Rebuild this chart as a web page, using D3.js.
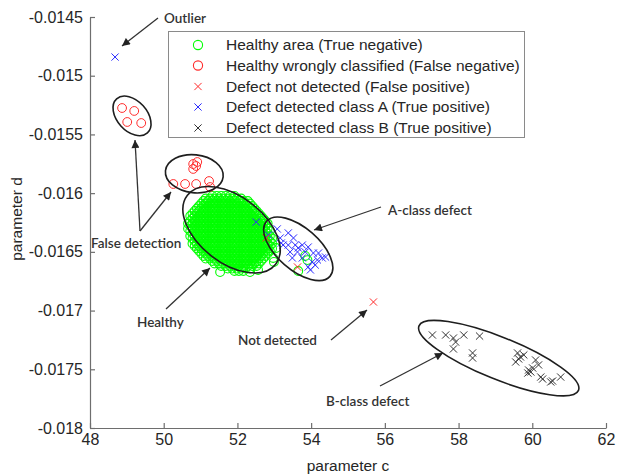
<!DOCTYPE html>
<html>
<head>
<meta charset="utf-8">
<script src="https://cdn.jsdelivr.net/npm/d3@7"></script>
<style>
  html, body { margin: 0; padding: 0; background: #fff; }
  svg { display: block; }
</style>
</head>
<body>
<svg id="chart" width="620" height="476"></svg>
<script>
// ---------------- DATA ----------------
const xTicks = [48, 50, 52, 54, 56, 58, 60, 62];
const xTickLabels = ["48", "50", "52", "54", "56", "58", "60", "62"];
const yTicks = [-0.0145, -0.015, -0.0155, -0.016, -0.0165, -0.017, -0.0175, -0.018];
const yTickLabels = ["-0.0145", "-0.015", "-0.0155", "-0.016", "-0.0165", "-0.017", "-0.0175", "-0.018"];

const legendLabels = [
  "Healthy area (True negative)",
  "Healthy wrongly classified (False negative)",
  "Defect not detected (False positive)",
  "Defect detected class A (True positive)",
  "Defect detected class B (True positive)"
];

// Healthy area (True negative): rows of [d, [c values]] (dense cloud)
const healthyRows = [
  [-0.016024, [51.32, 51.44, 51.56, 51.68, 51.80, 51.92]],
  [-0.016046, [51.14, 51.26, 51.38, 51.50, 51.62, 51.74, 51.86, 51.98, 52.10]],
  [-0.016067, [51.08, 51.20, 51.32, 51.44, 51.56, 51.68, 51.80, 51.92, 52.04, 52.16, 52.28]],
  [-0.016088, [51.02, 51.14, 51.26, 51.38, 51.50, 51.62, 51.74, 51.86, 51.98, 52.10, 52.22, 52.34]],
  [-0.016110, [50.96, 51.08, 51.20, 51.32, 51.44, 51.56, 51.68, 51.80, 51.92, 52.04, 52.16, 52.28, 52.40]],
  [-0.016131, [50.90, 51.02, 51.14, 51.26, 51.38, 51.50, 51.62, 51.74, 51.86, 51.98, 52.10, 52.22, 52.34, 52.46]],
  [-0.016152, [50.84, 50.96, 51.08, 51.20, 51.32, 51.44, 51.56, 51.68, 51.80, 51.92, 52.04, 52.16, 52.28, 52.40, 52.52]],
  [-0.016173, [50.78, 50.90, 51.02, 51.14, 51.26, 51.38, 51.50, 51.62, 51.74, 51.86, 51.98, 52.10, 52.22, 52.34, 52.46, 52.58]],
  [-0.016195, [50.72, 50.84, 50.96, 51.08, 51.20, 51.32, 51.44, 51.56, 51.68, 51.80, 51.92, 52.04, 52.16, 52.28, 52.40, 52.52, 52.64]],
  [-0.016216, [50.78, 50.90, 51.02, 51.14, 51.26, 51.38, 51.50, 51.62, 51.74, 51.86, 51.98, 52.10, 52.22, 52.34, 52.46, 52.58, 52.70]],
  [-0.016237, [50.72, 50.84, 50.96, 51.08, 51.20, 51.32, 51.44, 51.56, 51.68, 51.80, 51.92, 52.04, 52.16, 52.28, 52.40, 52.52, 52.64, 52.76]],
  [-0.016259, [50.66, 50.78, 50.90, 51.02, 51.14, 51.26, 51.38, 51.50, 51.62, 51.74, 51.86, 51.98, 52.10, 52.22, 52.34, 52.46, 52.58, 52.70, 52.82]],
  [-0.016280, [50.72, 50.84, 50.96, 51.08, 51.20, 51.32, 51.44, 51.56, 51.68, 51.80, 51.92, 52.04, 52.16, 52.28, 52.40, 52.52, 52.64, 52.76]],
  [-0.016301, [50.66, 50.78, 50.90, 51.02, 51.14, 51.26, 51.38, 51.50, 51.62, 51.74, 51.86, 51.98, 52.10, 52.22, 52.34, 52.46, 52.58, 52.70, 52.82]],
  [-0.016322, [50.72, 50.84, 50.96, 51.08, 51.20, 51.32, 51.44, 51.56, 51.68, 51.80, 51.92, 52.04, 52.16, 52.28, 52.40, 52.52, 52.64, 52.76, 52.88]],
  [-0.016344, [50.78, 50.90, 51.02, 51.14, 51.26, 51.38, 51.50, 51.62, 51.74, 51.86, 51.98, 52.10, 52.22, 52.34, 52.46, 52.58, 52.70, 52.82]],
  [-0.016365, [50.72, 50.84, 50.96, 51.08, 51.20, 51.32, 51.44, 51.56, 51.68, 51.80, 51.92, 52.04, 52.16, 52.28, 52.40, 52.52, 52.64, 52.76, 52.88]],
  [-0.016386, [50.78, 50.90, 51.02, 51.14, 51.26, 51.38, 51.50, 51.62, 51.74, 51.86, 51.98, 52.10, 52.22, 52.34, 52.46, 52.58, 52.70, 52.82, 52.94]],
  [-0.016408, [50.84, 50.96, 51.08, 51.20, 51.32, 51.44, 51.56, 51.68, 51.80, 51.92, 52.04, 52.16, 52.28, 52.40, 52.52, 52.64, 52.76, 52.88]],
  [-0.016429, [50.78, 50.90, 51.02, 51.14, 51.26, 51.38, 51.50, 51.62, 51.74, 51.86, 51.98, 52.10, 52.22, 52.34, 52.46, 52.58, 52.70, 52.82, 52.94]],
  [-0.016450, [50.84, 50.96, 51.08, 51.20, 51.32, 51.44, 51.56, 51.68, 51.80, 51.92, 52.04, 52.16, 52.28, 52.40, 52.52, 52.64, 52.76, 52.88]],
  [-0.016471, [50.90, 51.02, 51.14, 51.26, 51.38, 51.50, 51.62, 51.74, 51.86, 51.98, 52.10, 52.22, 52.34, 52.46, 52.58, 52.70, 52.82, 52.94]],
  [-0.016493, [50.96, 51.08, 51.20, 51.32, 51.44, 51.56, 51.68, 51.80, 51.92, 52.04, 52.16, 52.28, 52.40, 52.52, 52.64, 52.76, 52.88]],
  [-0.016514, [51.02, 51.14, 51.26, 51.38, 51.50, 51.62, 51.74, 51.86, 51.98, 52.10, 52.22, 52.34, 52.46, 52.58, 52.70, 52.82]],
  [-0.016535, [51.08, 51.20, 51.32, 51.44, 51.56, 51.68, 51.80, 51.92, 52.04, 52.16, 52.28, 52.40, 52.52, 52.64, 52.76]],
  [-0.016557, [51.14, 51.26, 51.38, 51.50, 51.62, 51.74, 51.86, 51.98, 52.10, 52.22, 52.34, 52.46, 52.58, 52.70]],
  [-0.016578, [51.32, 51.44, 51.56, 51.68, 51.80, 51.92, 52.04, 52.16, 52.28, 52.40, 52.52, 52.64]],
  [-0.016599, [51.38, 51.50, 51.62, 51.74, 51.86, 51.98, 52.10, 52.22, 52.34, 52.46, 52.58]],
  [-0.016620, [51.56, 51.68, 51.80, 51.92, 52.04, 52.16, 52.28, 52.40, 52.52]],
  [-0.016642, [51.74, 51.86, 51.98, 52.10, 52.22, 52.34]],
  [-0.016663, [51.92, 52.04, 52.16]]
];
// loose healthy points around the cloud and inside the A-class area
const healthyExtra = [
  [52.34, -0.016672], [52.56, -0.016654], [51.53, -0.016672], [52.97, -0.016552],
  [53.05, -0.016467], [52.99, -0.016586], [53.84, -0.016535], [53.90, -0.016570], [53.65, -0.016663]
];

// Healthy wrongly classified (False negative)
const falseNegC = [48.87, 49.20, 49.01, 49.39, 50.26, 50.58, 50.88, 51.23, 51.26, 50.80, 50.88, 50.80, 50.91];
const falseNegD = [-0.015275, -0.015300, -0.015394, -0.015403, -0.015922, -0.015922, -0.015922, -0.015897, -0.015948, -0.015752, -0.015769, -0.015794, -0.015735];

// Defect not detected (False positive)
const falsePosC = [52.78, 53.63, 55.69];
const falsePosD = [-0.016382, -0.016629, -0.016927];

// Defect detected class A (True positive)
const classAC = [48.68, 52.51, 52.84, 53.08, 53.19, 53.24, 53.38, 53.52, 53.38, 53.57, 53.65, 53.76, 53.92, 53.84, 54.06, 54.20, 54.30, 54.39, 54.17, 54.03, 54.11, 53.92, 53.76, 53.49, 53.43, 53.63, 53.98, 53.16];
const classAD = [-0.014841, -0.016246, -0.016356, -0.016305, -0.016425, -0.016442, -0.016339, -0.016382, -0.016442, -0.016442, -0.016467, -0.016442, -0.016459, -0.016501, -0.016510, -0.016510, -0.016552, -0.016544, -0.016569, -0.016586, -0.016612, -0.016629, -0.016552, -0.016552, -0.016501, -0.016501, -0.016654, -0.016382];

// Defect detected class B (True positive)
const classBC = [57.29, 57.65, 57.86, 57.92, 58.14, 58.57, 57.86, 58.38, 58.38, 59.60, 59.68, 59.55, 59.77, 59.63, 60.09, 60.17, 60.01, 59.90, 59.96, 59.88, 60.23, 60.28, 60.55, 60.50, 60.77];
const classBD = [-0.017208, -0.017208, -0.017234, -0.017268, -0.017208, -0.017217, -0.017327, -0.017361, -0.017404, -0.017361, -0.017395, -0.017438, -0.017378, -0.017412, -0.017421, -0.017463, -0.017489, -0.017506, -0.017523, -0.017532, -0.017566, -0.017583, -0.017600, -0.017608, -0.017566];

// ---------------- DRAW ----------------
const svg = d3.select("#chart");
const x = d3.scaleLinear().domain([48, 62]).range([90, 606]);
const y = d3.scaleLinear().domain([-0.018, -0.0145]).range([428, 17]);

const COL = { green: "#00ff00", red: "#ff2b2b", blue: "#2b2bff", dark: "#333333" };
const axisColor = "#6e6e6e";
const textColor = "#262626";
const FONT = "'Liberation Sans', Arial, sans-serif";
const ANNO_FONT = "Lato, 'Open Sans', sans-serif";

// Axes
const xAxis = d3.axisBottom(x).tickValues(xTicks)
  .tickFormat((d, i) => xTickLabels[i]).tickSizeInner(-5).tickSizeOuter(0).tickPadding(6);
const yAxis = d3.axisLeft(y).tickValues(yTicks)
  .tickFormat((d, i) => yTickLabels[i]).tickSizeInner(-5).tickSizeOuter(0).tickPadding(7);

const gx = svg.append("g").attr("transform", "translate(0,428)").call(xAxis);
const gy = svg.append("g").attr("transform", "translate(90,0)").call(yAxis);
[gx, gy].forEach(g => {
  g.select(".domain").attr("stroke", axisColor).attr("stroke-width", 1.2);
  g.selectAll(".tick line").attr("stroke", axisColor).attr("stroke-width", 1.2);
  g.selectAll(".tick text").attr("fill", textColor).style("font-family", FONT).style("font-size", "16px");
});

svg.append("text").attr("x", 348).attr("y", 471).attr("text-anchor", "middle")
  .style("font-family", FONT).style("font-size", "15.5px").attr("fill", textColor).text("parameter c");
svg.append("text").attr("transform", "translate(22,219) rotate(-90)").attr("text-anchor", "middle")
  .style("font-family", FONT).style("font-size", "15.5px").attr("fill", textColor).text("parameter d");

// Markers
const crossPath = "M-3.6,-3.6L3.6,3.6M-3.6,3.6L3.6,-3.6";
const healthy = healthyRows.flatMap(([d, cs]) => cs.map(c => [c, d])).concat(healthyExtra);

const plot = svg.append("g");
plot.append("g").selectAll("circle").data(healthy).join("circle")
  .attr("cx", d => x(d[0])).attr("cy", d => y(d[1])).attr("r", 4.4)
  .attr("fill", "none").attr("stroke", COL.green).attr("stroke-width", 1.1);

plot.append("g").selectAll("circle").data(falseNegC.map((c, i) => [c, falseNegD[i]])).join("circle")
  .attr("cx", d => x(d[0])).attr("cy", d => y(d[1])).attr("r", 4.4)
  .attr("fill", "none").attr("stroke", COL.red).attr("stroke-width", 1);

function crosses(cs, ds, color) {
  plot.append("g").selectAll("path").data(cs.map((c, i) => [c, ds[i]])).join("path")
    .attr("transform", d => `translate(${x(d[0])},${y(d[1])})`)
    .attr("d", crossPath).attr("fill", "none").attr("stroke", color).attr("stroke-width", 1);
}
crosses(classAC, classAD, COL.blue);
crosses(falsePosC, falsePosD, COL.red);
crosses(classBC, classBD, COL.dark);

// Annotation ellipses (centres given in data units)
const ann = svg.append("g");
const ellipses = [
  { c: 49.14, d: -0.015342, rx: 23, ry: 15, rot: 48 },
  { c: 50.83, d: -0.015835, rx: 29, ry: 19, rot: 6 },
  { c: 51.84, d: -0.016312, rx: 56, ry: 33, rot: 38 },
  { c: 53.65, d: -0.016474, rx: 42, ry: 21, rot: 41 },
  { c: 59.09, d: -0.017405, rx: 86, ry: 21, rot: 22 }
];
ann.selectAll("ellipse").data(ellipses).join("ellipse")
  .attr("transform", e => `translate(${x(e.c)},${y(e.d)}) rotate(${e.rot})`)
  .attr("rx", e => e.rx).attr("ry", e => e.ry)
  .attr("fill", "none").attr("stroke", "#1e1e1e").attr("stroke-width", 1.6);

// Arrow marker
svg.append("defs").append("marker")
  .attr("id", "ah").attr("viewBox", "0 0 10 10").attr("refX", 10).attr("refY", 5)
  .attr("markerWidth", 9).attr("markerHeight", 8).attr("markerUnits", "userSpaceOnUse")
  .attr("orient", "auto")
  .append("path").attr("d", "M0,0L10,5L0,10Z").attr("fill", "#222");

const arrows = [
  [[158, 18], [122, 46]],
  [[140, 231], [135, 140]],
  [[140, 231], [171, 192]],
  [[166, 309], [210, 268]],
  [[381, 207], [314, 230]],
  [[331, 340], [367, 310]],
  [[380, 386], [443, 353]]
];
ann.selectAll("line").data(arrows).join("line")
  .attr("x1", a => a[0][0]).attr("y1", a => a[0][1])
  .attr("x2", a => a[1][0]).attr("y2", a => a[1][1])
  .attr("stroke", "#333").attr("stroke-width", 1.3).attr("marker-end", "url(#ah)");

const labels = [
  ["Outlier", 164, 23],
  ["False detection", 91, 248],
  ["Healthy", 137, 327],
  ["A-class defect", 388, 215],
  ["Not detected", 238, 345],
  ["B-class defect", 326, 406]
];
ann.selectAll("text").data(labels).join("text")
  .attr("x", l => l[1]).attr("y", l => l[2]).text(l => l[0])
  .style("font-family", ANNO_FONT).style("font-size", "13.5px").style("font-weight", 600)
  .attr("fill", "#333");

// Legend
const lg = svg.append("g");
lg.append("rect").attr("x", 168.5).attr("y", 31.5).attr("width", 356).attr("height", 106)
  .attr("fill", "#fff").attr("stroke", "#8a8a8a").attr("stroke-width", 1);
const legendRowsY = [45, 65.5, 86.5, 107, 128];
const legendMarkers = [
  { type: "circle", color: COL.green },
  { type: "circle", color: COL.red },
  { type: "cross", color: COL.red },
  { type: "cross", color: COL.blue },
  { type: "cross", color: COL.dark }
];
legendLabels.forEach((lab, i) => {
  const m = legendMarkers[i];
  const yy = legendRowsY[i];
  if (m.type === "circle") {
    lg.append("circle").attr("cx", 198).attr("cy", yy).attr("r", 4.6)
      .attr("fill", "none").attr("stroke", m.color).attr("stroke-width", 1.1);
  } else {
    lg.append("path").attr("transform", `translate(198,${yy})`).attr("d", crossPath)
      .attr("fill", "none").attr("stroke", m.color).attr("stroke-width", 1);
  }
  lg.append("text").attr("x", 226).attr("y", yy).attr("dy", "0.35em")
    .style("font-family", FONT).style("font-size", "15.5px").attr("fill", textColor).text(lab);
});
</script>
</body>
</html>
